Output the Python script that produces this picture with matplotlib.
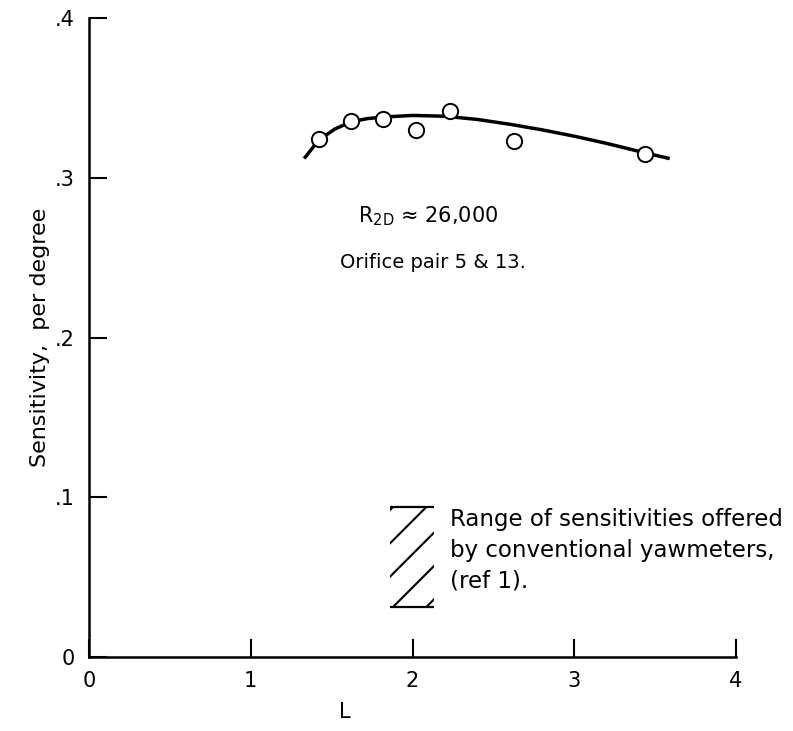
import numpy as np
import matplotlib
matplotlib.use('Agg')
import matplotlib.pyplot as plt
from matplotlib.ticker import FuncFormatter

# measured points (orifice pair 5 & 13)
L_pts = [1.42, 1.62, 1.82, 2.02, 2.23, 2.63, 3.44]
sens_pts = [0.324, 0.3355, 0.337, 0.330, 0.3415, 0.323, 0.315]

# faired curve
L_curve = [1.33, 1.42, 1.52, 1.62, 1.72, 1.82, 2.0, 2.2, 2.4, 2.6, 2.8, 3.0, 3.2, 3.44, 3.59]
sens_curve = [0.312, 0.3235, 0.3305, 0.335, 0.337, 0.338, 0.339, 0.3385, 0.3365,
              0.3335, 0.330, 0.326, 0.3215, 0.3155, 0.312]

# conventional yawmeter range (hatched box)
range_L = [1.86, 2.13]
range_lo = 0.031
range_hi = 0.094

xticks = [0, 1, 2, 3, 4]
yticks = [0, 0.1, 0.2, 0.3, 0.4]

plt.rcParams['font.family'] = ['DejaVu Sans']
plt.rcParams['hatch.linewidth'] = 1.5

fig = plt.figure(figsize=(7.93, 7.31), dpi=100)
ax = fig.add_axes([0.1122, 0.1012, 0.8160, 0.8742])

ax.plot(L_curve, sens_curve, color='black', linewidth=2.5, solid_capstyle='butt', zorder=2)
ax.plot(L_pts, sens_pts, linestyle='none', marker='o', markersize=11,
        markerfacecolor='white', markeredgecolor='black', markeredgewidth=1.4, zorder=3)

ax.fill_between(range_L, range_lo, range_hi, facecolor='none', edgecolor='black',
                hatch='/', linewidth=0)
ax.hlines([range_lo, range_hi], range_L[0], range_L[1], color='black', linewidth=1.6)

ax.text(2.23, 0.0935, 'Range of sensitivities offered\nby conventional yawmeters,\n(ref 1).',
        fontsize=16.5, va='top', ha='left', linespacing=1.45)
ax.text(1.66, 0.272, r'R$_{\mathregular{2D}}$ ≈ 26,000', fontsize=15, va='baseline')
ax.text(1.55, 0.2435, 'Orifice pair 5 & 13.', fontsize=14, va='baseline')

ax.set_xlim(0, 4)
ax.set_ylim(0, 0.4)
ax.set_xticks(xticks)
ax.set_yticks(yticks)
ax.yaxis.set_major_formatter(FuncFormatter(lambda v, p: '0' if v == 0 else ('%.1f' % v)[1:]))
ax.tick_params(direction='in', length=13, width=1.5, labelsize=15)
ax.tick_params(axis='x', pad=10)
ax.tick_params(axis='y', pad=10)

for side in ['top', 'right']:
    ax.spines[side].set_visible(False)
for side in ['left', 'bottom']:
    ax.spines[side].set_linewidth(1.8)

ax.set_xlabel('L', fontsize=15)
ax.xaxis.set_label_coords(0.396, -0.07)
ax.set_ylabel('Sensitivity,  per degree', fontsize=16)
ax.yaxis.set_label_coords(-0.06, 0.5)

fig.savefig('out.png', dpi=100)
